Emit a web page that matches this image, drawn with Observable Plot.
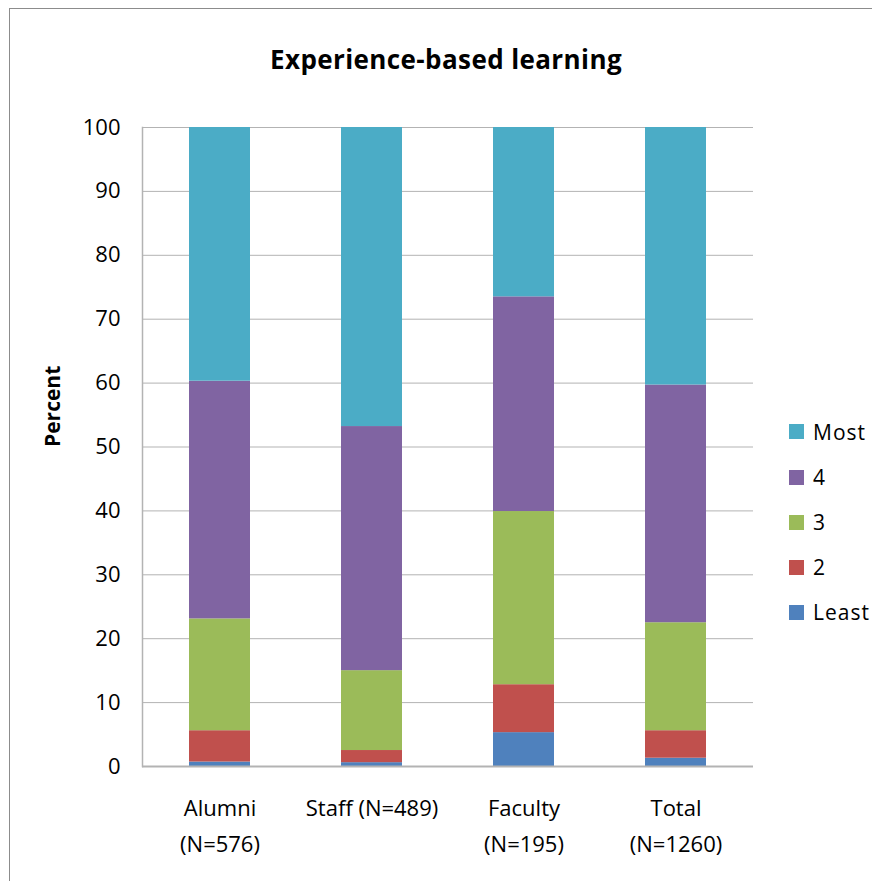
<!DOCTYPE html>
<html>
<head>
<meta charset="utf-8">
<script src="https://cdn.jsdelivr.net/npm/d3@7"></script>
<script src="https://cdn.jsdelivr.net/npm/@observablehq/plot@0.6"></script>
<style>
  html, body { margin: 0; padding: 0; background: #fff; overflow: hidden; }
  #wrap { position: relative; width: 872px; height: 881px; overflow: hidden; font-family: "Open Sans", sans-serif; }
  #border { position: absolute; left: 9px; top: 8px; width: 900px; height: 900px; border: 1px solid #8c8c8c; box-sizing: border-box; }
  #title { position: absolute; left: 0; width: 892px; top: 46px; text-align: center; font-weight: bold; font-size: 26px; letter-spacing: 0.4px; color: #000; line-height: 1; }
  #legend { position: absolute; left: 789px; top: 0; }
  .item { position: absolute; left: 0; height: 30px; display: flex; align-items: center; white-space: nowrap; }
  .sw { width: 15px; height: 15px; margin-right: 9px; flex: none; }
  .lab { font-size: 21px; letter-spacing: 1px; color: #000; }
  #chart { position: absolute; left: 0; top: 0; }
</style>
</head>
<body>
<div id="wrap">
  <div id="border"></div>
  <div id="chart"></div>
  <div id="title"></div>
  <div id="legend"></div>
</div>
<script>
const chartTitle = "Experience-based learning";
const yLabel = "Percent";
const categories = ["Alumni (N=576)", "Staff (N=489)", "Faculty (N=195)", "Total (N=1260)"];
const categoryLabels = ["Alumni\n(N=576)", "Staff (N=489)", "Faculty\n(N=195)", "Total\n(N=1260)"];
const levels = ["Least", "2", "3", "4", "Most"];
const levelColors = ["#4F81BD", "#C0504D", "#9BBB59", "#8064A2", "#4BACC6"];
const leastValues = [0.7, 0.6, 5.3, 1.3];
const twoValues = [4.9, 1.9, 7.5, 4.3];
const threeValues = [17.5, 12.5, 27.1, 16.9];
const fourValues = [37.2, 38.2, 33.6, 37.2];
const mostValues = [39.7, 46.8, 26.5, 40.3];
const yTicks = [0, 10, 20, 30, 40, 50, 60, 70, 80, 90, 100];
const legendOrder = ["Most", "4", "3", "2", "Least"];

const seriesValues = [leastValues, twoValues, threeValues, fourValues, mostValues];
const table = categories.flatMap((c, i) =>
  levels.map((l, j) => ({category: c, level: l, value: seriesValues[j][i]}))
);

const chart = Plot.plot({
  width: 872,
  height: 881,
  marginLeft: 142,
  marginRight: 119,
  marginTop: 127,
  marginBottom: 115,
  style: {fontFamily: "'Open Sans', sans-serif", fontSize: "22px", color: "#000", background: "transparent", overflow: "visible"},
  x: {domain: categories, paddingInner: 0.6, paddingOuter: 0.3, axis: null},
  y: {domain: [0, 100], axis: null},
  color: {domain: levels, range: levelColors},
  marks: [
    Plot.gridY(yTicks, {stroke: "#b3b3b3", strokeOpacity: 1, strokeWidth: 1}),
    Plot.barY(table, {x: "category", y: "value", fill: "level", order: levels}),
    Plot.ruleY([0], {stroke: "#b3b3b3", strokeWidth: 2}),
    Plot.frame({anchor: "left", stroke: "#b3b3b3", strokeWidth: 1.5}),
    Plot.axisY(yTicks, {tickSize: 0, tickPadding: 22, label: null, fontSize: 22, fill: "#000"}),
    Plot.text([yLabel], {frameAnchor: "left", rotate: -90, dx: -89, text: d => d, fontWeight: "bold", fontSize: 21, fill: "#000"}),
    Plot.text(categories, {x: d => d, text: (d, i) => categoryLabels[i], frameAnchor: "bottom", lineAnchor: "top", dy: 25, lineHeight: 1.6, fontSize: 22, fill: "#000"})
  ]
});
document.getElementById("chart").appendChild(chart);
document.getElementById("title").textContent = chartTitle;

const legendTops = {Most: 431.5, "4": 477, "3": 522, "2": 567, Least: 612};
const legend = document.getElementById("legend");
legendOrder.forEach(l => {
  const item = document.createElement("div");
  item.className = "item";
  item.style.top = (legendTops[l] - 15) + "px";
  const sw = document.createElement("div");
  sw.className = "sw";
  sw.style.background = levelColors[levels.indexOf(l)];
  const lab = document.createElement("span");
  lab.className = "lab";
  lab.textContent = l;
  item.appendChild(sw);
  item.appendChild(lab);
  legend.appendChild(item);
});
</script>
</body>
</html>
